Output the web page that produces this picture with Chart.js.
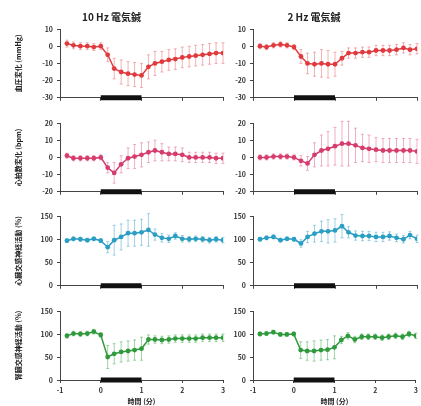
<!DOCTYPE html>
<html>
<head>
<meta charset="utf-8">
<script src="https://cdn.jsdelivr.net/npm/chart.js@4.4.0/dist/chart.umd.min.js"></script>
<style>
  html, body { margin: 0; padding: 0; background: #fff; }
  body { position: relative; width: 421px; height: 406px; overflow: hidden; }
  .panel { position: absolute; }
</style>
</head>
<body>
<script>
// time after stimulation onset (min), one point every 10 s
const minutes = [-0.83, -0.67, -0.5, -0.33, -0.17, 0, 0.17, 0.33, 0.5, 0.67, 0.83, 1,
                 1.17, 1.33, 1.5, 1.67, 1.83, 2, 2.17, 2.33, 2.5, 2.67, 2.83, 3];
const stimPeriod = [0, 1];
const columnTitles = ['10 Hz 電気鍼', '2 Hz 電気鍼'];
const rowLabels = ['血圧変化 (mmHg)', '心拍数変化 (bpm)', '心臓交感神経活動 (%)', '腎臓交感神経活動 (%)'];
const xLabel = '時間 (分)';

// 血圧
const bp10 = [1.5, 0.5, 0, 0, -0.5, 0, -5, -13, -15, -16, -16.5, -17, -12, -10, -9, -8, -7.5, -6.5, -6, -5.5, -5, -4.5, -4, -4];
const bp10Err = [2, 2, 2, 2, 2, 2, 4, 6, 7, 7, 7, 7, 7, 7, 6, 6, 6, 6, 6, 6, 6, 6, 6, 6];
const bp2 = [0, -0.5, 0.5, 1, 0.5, -0.5, -6, -10, -10.5, -10, -10.5, -10.5, -7, -4, -4, -3.5, -3.5, -2.5, -2.5, -2.5, -2, -1, -2, -1.5];
const bp2Err = [1.5, 1.5, 1.5, 1.5, 1.5, 1.5, 4, 6, 7, 8, 8, 7, 4, 3, 3, 3, 3, 3, 3, 3, 3, 3, 3, 3];
// 心拍数
const hr10 = [1, -0.5, -0.5, -0.5, -0.5, 0, -6, -9, -4, -0.5, 0.5, 1.5, 3, 4, 3, 2, 2, 1.5, 0, 0, 0, 0, -0.5, -0.5];
const hr10Err = [1.5, 1.5, 1.5, 1.5, 1.5, 1.5, 3, 6, 5, 6, 7, 7, 6, 6, 5, 4, 4, 4, 3, 3, 3, 3, 3, 3];
const hr2 = [0, 0, 0.5, 0.5, 0.5, 0, -2, -3.5, 1.5, 4, 5, 6.5, 8, 8, 7, 5.5, 5, 4.5, 4, 4, 4, 4, 4, 3.5];
const hr2Err = [1.5, 1.5, 1.5, 1.5, 1.5, 1.5, 3, 4, 7, 9, 10, 11, 13, 13, 10, 8, 8, 7, 7, 7, 7, 7, 7, 7];
// 心臓交感神経
const csna10 = [97, 101, 100, 98, 101, 97, 83, 98, 105, 113, 113, 115, 120, 110, 103, 101, 107, 101, 100, 101, 100, 98, 100, 98];
const csna10Err = [4, 4, 4, 4, 4, 4, 12, 32, 28, 28, 28, 28, 35, 12, 9, 8, 7, 7, 6, 6, 6, 6, 6, 6];
const csna2 = [100, 103, 105, 98, 101, 100, 91, 105, 112, 117, 117, 119, 128, 115, 108, 107, 107, 105, 105, 107, 103, 100, 109, 101];
const csna2Err = [4, 4, 4, 4, 4, 4, 8, 12, 18, 22, 25, 25, 25, 12, 10, 10, 10, 10, 10, 9, 8, 8, 8, 8];
// 腎臓交感神経
const rsna10 = [96, 101, 100, 101, 105, 98, 50, 57, 61, 63, 65, 68, 88, 88, 87, 88, 90, 90, 90, 90, 92, 92, 92, 92];
const rsna10Err = [5, 5, 5, 5, 5, 5, 25, 22, 22, 22, 22, 25, 10, 8, 8, 8, 8, 8, 8, 8, 8, 8, 8, 8];
const rsna2 = [100, 101, 104, 99, 99, 100, 65, 63, 63, 65, 66, 71, 87, 96, 88, 94, 94, 94, 92, 94, 96, 94, 100, 96];
const rsna2Err = [4, 4, 4, 4, 4, 4, 18, 20, 22, 22, 22, 25, 8, 7, 7, 6, 6, 6, 6, 6, 6, 6, 6, 6];

const yRanges = [[-30, 10, 10], [-20, 20, 10], [0, 150, 50], [0, 150, 50]];
const rowColors = ['#e13a3e', '#d63c6c', '#2b9ec3', '#2e9a3c'];
const rowErrColors = ['rgba(232,90,95,0.6)', 'rgba(220,90,130,0.6)', 'rgba(60,160,200,0.6)', 'rgba(60,165,70,0.6)'];
const series = [[bp10, bp2], [hr10, hr2], [csna10, csna2], [rsna10, rsna2]];
const seriesErr = [[bp10Err, bp2Err], [hr10Err, hr2Err], [csna10Err, csna2Err], [rsna10Err, rsna2Err]];

Chart.defaults.font.family = "'Noto Sans CJK JP', 'DejaVu Sans', sans-serif";
Chart.defaults.animation = false;

// layout of the 4x2 grid
const rows = [
  { top: 0, h: 106, padTop: 0, xh: 7 },
  { top: 106, h: 94, padTop: 17, xh: 7 },
  { top: 200, h: 94, padTop: 16, xh: 7 },
  { top: 294, h: 112, padTop: 17, xh: 26 }
];
const cols = [
  { left: 0, w: 230, yw: 60, padRight: 7 },
  { left: 210, w: 211, yw: 43, padRight: 3 }
];

const errorBars = {
  id: 'errorBars',
  beforeDatasetsDraw(chart) {
    const ds = chart.data.datasets[0];
    const xs = chart.scales.x, ys = chart.scales.y;
    const ctx = chart.ctx;
    ctx.save();
    ctx.strokeStyle = ds.errColor;
    ctx.lineWidth = 0.8;
    ds.data.forEach((p, i) => {
      const x = xs.getPixelForValue(p.x);
      const lo = ys.getPixelForValue(p.y - ds.err[i]);
      const hi = ys.getPixelForValue(p.y + ds.err[i]);
      ctx.beginPath();
      ctx.moveTo(x, lo); ctx.lineTo(x, hi);
      ctx.moveTo(x - 1.5, lo); ctx.lineTo(x + 1.5, lo);
      ctx.moveTo(x - 1.5, hi); ctx.lineTo(x + 1.5, hi);
      ctx.stroke();
    });
    ctx.restore();
  }
};

const axisColor = '#444';
const tickFont = { size: 7, weight: 'bold' };

rows.forEach((row, r) => {
  cols.forEach((col, c) => {
    const div = document.createElement('div');
    div.className = 'panel';
    div.style.left = col.left + 'px';
    div.style.top = row.top + 'px';
    const canvas = document.createElement('canvas');
    canvas.width = col.w;
    canvas.height = row.h;
    div.appendChild(canvas);
    document.body.appendChild(div);

    const [ymin, ymax, ystep] = yRanges[r];
    const last = r === rows.length - 1;

    new Chart(canvas, {
      type: 'line',
      data: {
        datasets: [{
          data: minutes.map((t, i) => ({ x: t, y: series[r][c][i] })),
          err: seriesErr[r][c],
          errColor: rowErrColors[r],
          borderColor: rowColors[r],
          backgroundColor: rowColors[r],
          borderWidth: 1.5,
          pointRadius: 2.4,
          pointBorderWidth: 0
        }, {
          // stimulation period bar on the x axis
          data: [{ x: stimPeriod[0], y: ymin }, { x: stimPeriod[1], y: ymin }],
          borderColor: '#111',
          borderWidth: 5,
          borderCapStyle: 'butt',
          pointRadius: 0,
          clip: false
        }]
      },
      options: {
        responsive: false,
        layout: { padding: { top: row.padTop, right: col.padRight, left: 0, bottom: 0 } },
        plugins: {
          legend: { display: false },
          tooltip: { enabled: false },
          title: {
            display: r === 0,
            text: columnTitles[c],
            color: '#222',
            font: { size: 10, weight: 'bold', lineHeight: 1 },
            padding: { top: 12, bottom: 7 }
          }
        },
        scales: {
          x: {
            type: 'linear',
            min: -1, max: 3,
            afterFit: s => { s.height = row.xh; },
            ticks: { display: last, stepSize: 1, padding: 3, color: '#333', font: tickFont },
            grid: { drawOnChartArea: false, tickLength: 3, color: axisColor },
            border: { color: axisColor, width: 1 },
            title: {
              display: last,
              text: xLabel,
              color: '#222',
              font: { size: 7, weight: 'bold' },
              padding: { top: 0, bottom: 0 }
            }
          },
          y: {
            min: ymin, max: ymax,
            afterFit: s => { s.width = col.yw; },
            ticks: { stepSize: ystep, padding: 4, color: '#333', font: tickFont },
            grid: { drawOnChartArea: false, tickLength: 3, color: axisColor },
            border: { color: axisColor, width: 1 },
            title: {
              display: c === 0,
              text: rowLabels[r],
              color: '#222',
              font: { size: 7, weight: 'bold' },
              padding: { top: 14 }
            }
          }
        }
      },
      plugins: [errorBars]
    });
  });
});
</script>
</body>
</html>
